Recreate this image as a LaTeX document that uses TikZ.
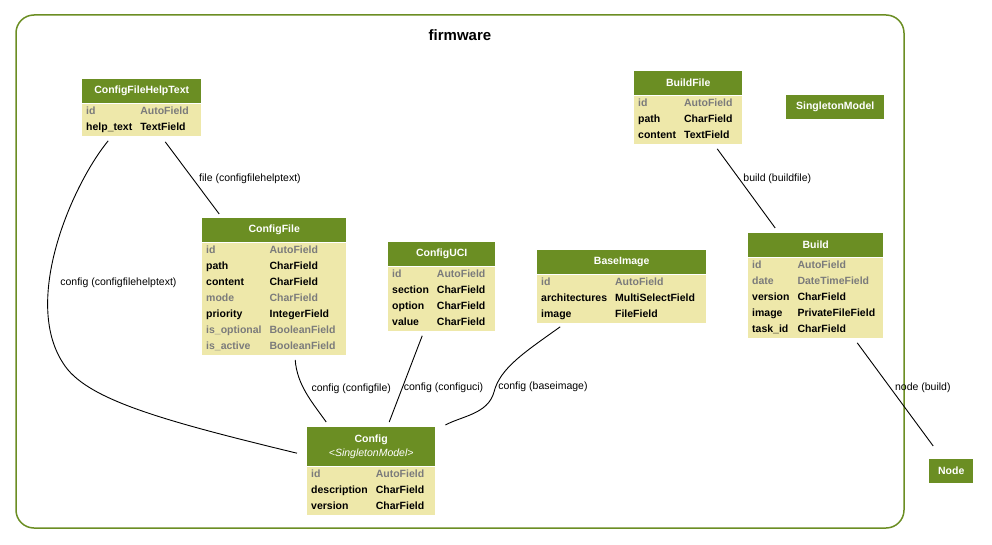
\documentclass[tikz,border=0pt]{standalone}
\usepackage{fontspec}
\setmainfont{Liberation Sans}
\usetikzlibrary{positioning,calc}
\definecolor{hdrgreen}{HTML}{6B8E23}
\definecolor{fieldbg}{HTML}{EEE8AA}
\definecolor{fieldgray}{HTML}{7B7B7B}
\newcommand{\grayfield}[1]{\textcolor{fieldgray}{#1}}
\tikzstyle{cluster} = [draw=hdrgreen, line width=1.5pt, rounded corners=18pt]
\tikzstyle{hdr} = [rectangle, fill=hdrgreen, text=white, inner sep=0pt, minimum height=24pt, anchor=north west, font=\fontsize{10.5}{14}\selectfont\bfseries]
\tikzstyle{fields} = [rectangle, fill=fieldbg, inner xsep=4pt, inner ysep=0pt, align=left, font=\fontsize{10.5}{16}\selectfont\bfseries]
\tikzstyle{rel} = [draw, line width=0.9pt]
\tikzstyle{lbl} = [font=\fontsize{10.5}{12}\selectfont, inner sep=1pt]

\begin{document}
\begin{tikzpicture}[x=1pt, y=-1pt]
    \useasboundingbox (0,0) rectangle (992,545);

    % Cluster
    \draw[cluster] (16,15) rectangle (904,528);
    \node[font=\fontsize{15}{18}\selectfont\bfseries] (title) at (460,35) {firmware};

    % ConfigFileHelpText
    \node[hdr, minimum width=119pt] (helptext) at (82,79) {ConfigFileHelpText};
    \node[fields, text width=111pt, below=0pt of helptext] (helptext-f) {\begin{tabular}{@{}l@{\hspace{8pt}}l@{}}
        \grayfield{id} & \grayfield{AutoField}\\
        help\_text & TextField
    \end{tabular}};

    % ConfigFile
    \node[hdr, minimum width=144pt] (configfile) at (202,218) {ConfigFile};
    \node[fields, text width=136pt, below=0pt of configfile] (configfile-f) {\begin{tabular}{@{}l@{\hspace{8pt}}l@{}}
        \grayfield{id} & \grayfield{AutoField}\\
        path & CharField\\
        content & CharField\\
        \grayfield{mode} & \grayfield{CharField}\\
        priority & IntegerField\\
        \grayfield{is\_optional} & \grayfield{BooleanField}\\
        \grayfield{is\_active} & \grayfield{BooleanField}
    \end{tabular}};

    % ConfigUCI
    \node[hdr, minimum width=107pt] (configuci) at (388,242) {ConfigUCI};
    \node[fields, text width=99pt, below=0pt of configuci] (configuci-f) {\begin{tabular}{@{}l@{\hspace{8pt}}l@{}}
        \grayfield{id} & \grayfield{AutoField}\\
        section & CharField\\
        option & CharField\\
        value & CharField
    \end{tabular}};

    % BaseImage
    \node[hdr, minimum width=169pt] (baseimage) at (537,250) {BaseImage};
    \node[fields, text width=161pt, below=0pt of baseimage] (baseimage-f) {\begin{tabular}{@{}l@{\hspace{8pt}}l@{}}
        \grayfield{id} & \grayfield{AutoField}\\
        architectures & MultiSelectField\\
        image & FileField
    \end{tabular}};

    % BuildFile
    \node[hdr, minimum width=108pt] (buildfile) at (634,71) {BuildFile};
    \node[fields, text width=100pt, below=0pt of buildfile] (buildfile-f) {\begin{tabular}{@{}l@{\hspace{8pt}}l@{}}
        \grayfield{id} & \grayfield{AutoField}\\
        path & CharField\\
        content & TextField
    \end{tabular}};

    \node[hdr, minimum width=98pt] (singleton) at (786,95) {SingletonModel};

    % Build
    \node[hdr, minimum width=135pt] (build) at (748,233) {Build};
    \node[fields, text width=127pt, below=0pt of build] (build-f) {\begin{tabular}{@{}l@{\hspace{8pt}}l@{}}
        \grayfield{id} & \grayfield{AutoField}\\
        \grayfield{date} & \grayfield{DateTimeField}\\
        version & CharField\\
        image & PrivateFileField\\
        task\_id & CharField
    \end{tabular}};

    % Config
    \node[hdr, minimum width=128pt, minimum height=39pt, align=center] (config) at (307,427) {Config\\ {\mdseries\itshape <SingletonModel>}};
    \node[fields, text width=120pt, below=0pt of config] (config-f) {\begin{tabular}{@{}l@{\hspace{8pt}}l@{}}
        \grayfield{id} & \grayfield{AutoField}\\
        description & CharField\\
        version & CharField
    \end{tabular}};

    % Node (outside the cluster)
    \node[hdr, minimum width=44pt] (nodemodel) at (929,459) {Node};

    % Relations
    \draw[rel] ([xshift=23.5pt,yshift=-6pt]helptext-f.south) -- node[lbl, right=5pt, pos=.51] {file (configfilehelptext)} ([xshift=-55pt,yshift=4pt]configfile.north);
    \draw[rel] ([xshift=-33.5pt,yshift=-5pt]helptext-f.south) .. controls (72,185) and (22,300) .. (63,363)
        node[lbl, right=10pt, pos=.65] {config (configfilehelptext)}
        .. controls (85,399) and (160,420) .. ([xshift=-10pt,yshift=-6.5pt]config.west);
    \draw[rel] ([xshift=21pt,yshift=-5pt]configfile-f.south) .. controls (297,385) and (312,402) .. node[lbl, right=6pt, pos=.44] {config (configfile)} ([xshift=-45pt,yshift=5pt]config.north);
    \draw[rel] ([xshift=-19.5pt,yshift=-5pt]configuci-f.south) -- node[lbl, right=0pt, pos=.6] {config (configuci)} ([xshift=18pt,yshift=5pt]config.north);
    \draw[rel] ([xshift=-61.5pt,yshift=-4pt]baseimage-f.south) .. controls (525,352) and (500,368) .. (494,392)
        node[lbl, right=1pt, pos=.92] {config (baseimage)}
        .. controls (488,414) and (462,416) .. ([xshift=10pt,yshift=2pt]config.north east);
    \draw[rel] ([xshift=29pt,yshift=-5pt]buildfile-f.south) -- node[lbl, right=3pt, pos=.375] {build (buildfile)} ([xshift=-40.5pt,yshift=5pt]build.north);
    \draw[rel] ([xshift=41.5pt,yshift=-5pt]build-f.south) -- node[lbl, right=3pt, pos=.44] {node (build)} ([xshift=-18pt,yshift=13pt]nodemodel.north);
\end{tikzpicture}
\end{document}
